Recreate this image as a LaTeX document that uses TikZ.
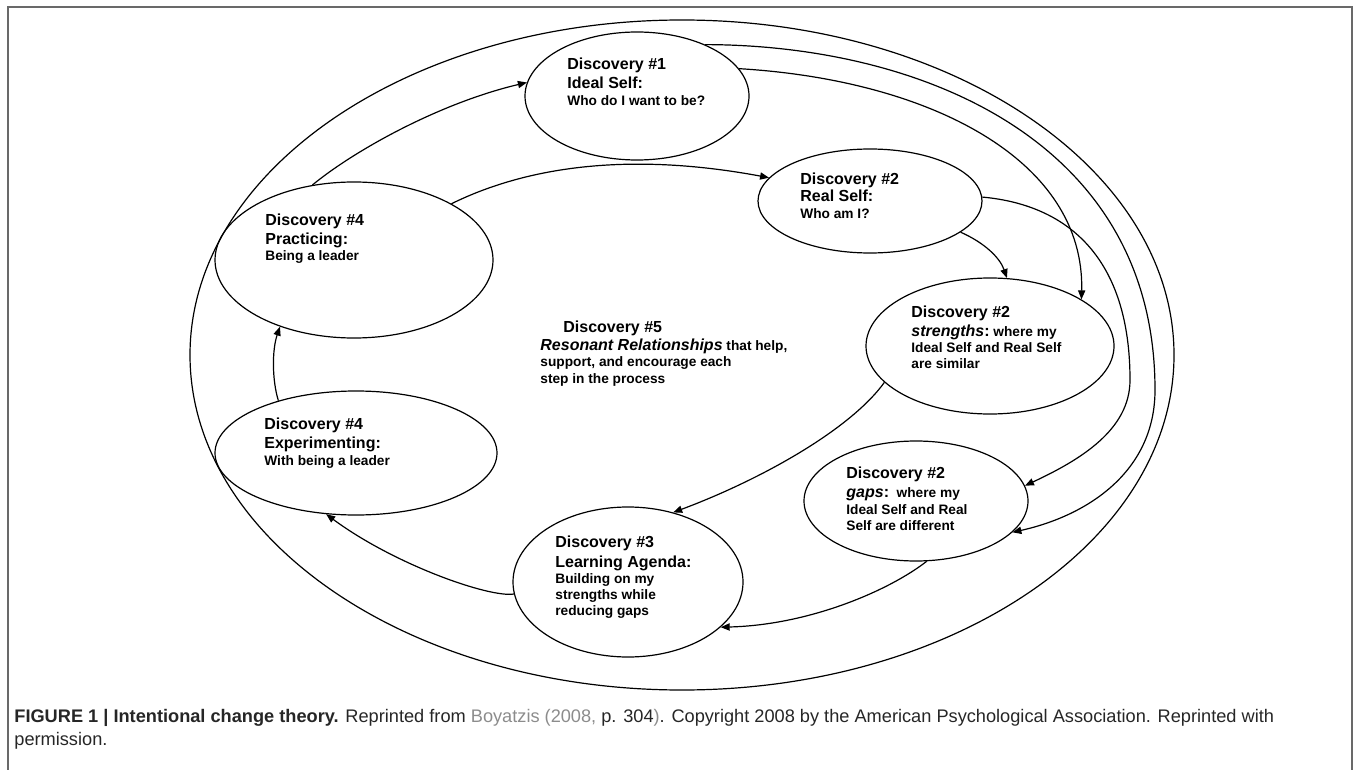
\documentclass[tikz,border=0pt]{standalone}
\usepackage{fontspec}
\setmainfont{Liberation Sans}
\usetikzlibrary{positioning,shapes.geometric,arrows.meta}
\definecolor{framegray}{RGB}{105,105,105}
\definecolor{citegray}{RGB}{140,140,140}
\tikzstyle{stage}=[ellipse,draw,line width=0.6pt,inner sep=0pt]
\tikzstyle{stage edge}=[-{Triangle[length=4.5pt,width=3.6pt]},line width=0.6pt]
\tikzstyle{stage text}=[anchor=base west,align=left,inner sep=0pt,font=\bfseries\fontsize{8}{9.5}\selectfont]
\newcommand{\stagenode}[4]{
  \node [stage, minimum width=#3, minimum height=#4] (#1) at #2 {}
}
\newcommand{\smalltext}{\fontsize{6.85}{8}\selectfont}

\begin{document}
\begin{tikzpicture}[x=0.5pt,y=-0.5pt]
        \useasboundingbox (0,0) rectangle (1354,770);
        \draw[framegray, line width=1pt] (8,772) -- (8,7) -- (1352,7) -- (1352,772);

        \node [stage, minimum width=492pt, minimum height=335pt] (ring) at (682,355) {};

        \stagenode{ideal}{(637,96)}{112pt}{64pt};
        \stagenode{real}{(870,201)}{112pt}{52pt};
        \stagenode{strong}{(990,346)}{124pt}{68pt};
        \stagenode{gaps}{(916,501)}{112pt}{60pt};
        \stagenode{agenda}{(628,582)}{115pt}{75pt};
        \stagenode{experiment}{(356,453)}{141pt}{62pt};
        \stagenode{practice}{(354,260)}{139pt}{78pt};

        % text sits on the baseline of its last line
        \node[stage text] (ideal-text) at (567,106) {Discovery \#1\\Ideal Self:\\[-1pt]{\smalltext Who do I want to be?}};
        \node[stage text] (real-text) at (800,219) {Discovery \#2\\[-1pt]Real Self:\\[-1pt]{\smalltext Who am I?}};
        \node[stage text] (strong-text) at (911,368) {Discovery \#2\\\textit{strengths}:{\smalltext\ where my}\\[-1.5pt]{\smalltext Ideal Self and Real Self}\\[-1.5pt]{\smalltext are similar}};
        \node[stage text] (gaps-text) at (846,530) {Discovery \#2\\\textit{gaps}:{\smalltext\ \ where my}\\[-1pt]{\smalltext Ideal Self and Real}\\[-1.5pt]{\smalltext Self are different}};
        \node[stage text] (agenda-text) at (555,615) {Discovery \#3\\[0.5pt]Learning Agenda:\\[-1.5pt]{\smalltext Building on my}\\[-1.5pt]{\smalltext strengths while}\\[-1.5pt]{\smalltext reducing gaps}};
        \node[stage text] (experiment-text) at (264,465) {Discovery \#4\\Experimenting:\\[-1pt]{\smalltext With being a leader}};
        \node[stage text] (practice-text) at (265,261) {Discovery \#4\\Practicing:\\[-1.5pt]{\smalltext Being a leader}};
        \node[stage text] (resonant-text) at (540,383) {\hspace*{11.5pt}Discovery \#5\\[-0.5pt]\textit{Resonant Relationships}{\smalltext\ that help,}\\[-1.5pt]{\smalltext support, and encourage each}\\[-1pt]{\smalltext step in the process}};

        \draw[stage edge] (practice.119) .. controls (355,150) and (440,103) .. (ideal.173);
        \draw[stage edge] (practice.30) .. controls (520,170) and (620,150) .. (real.167);
        \draw[stage edge] (ideal.15) .. controls (930,80) and (1085,160) .. (strong.27);
        \draw[stage edge] (ideal.37) .. controls (920,45) and (1155,140) .. (1155,390) .. controls (1155,470) and (1090,515) .. (gaps.-18);
        \draw[stage edge] (real.2) .. controls (1070,205) and (1130,260) .. (1130,380) .. controls (1130,430) and (1080,460) .. (gaps.8);
        \draw[stage edge] (real.-19) .. controls (985,243) and (1000,258) .. (strong.76);
        \draw[stage edge] (strong.199) .. controls (850,430) and (760,480) .. (agenda.57);
        \draw[stage edge] (gaps.280) .. controls (890,590) and (810,625) .. (agenda.-26);
        \draw[stage edge] (agenda.186) .. controls (490,598) and (395,565) .. (experiment.244);
        \draw[stage edge] (experiment.146) .. controls (272,380) and (272,350) .. (practice.222);

        \node[anchor=base west, align=left, inner sep=0pt, text=black!85, font=\fontsize{9.1}{11.5}\selectfont] (caption) at (14,745) {\textbf{FIGURE 1 | Intentional change theory.} Reprinted from \textcolor{citegray}{Boyatzis (2008,} p. 304\textcolor{citegray}{)}. Copyright 2008 by the American Psychological Association. Reprinted with\\permission.};
\end{tikzpicture}
\end{document}
